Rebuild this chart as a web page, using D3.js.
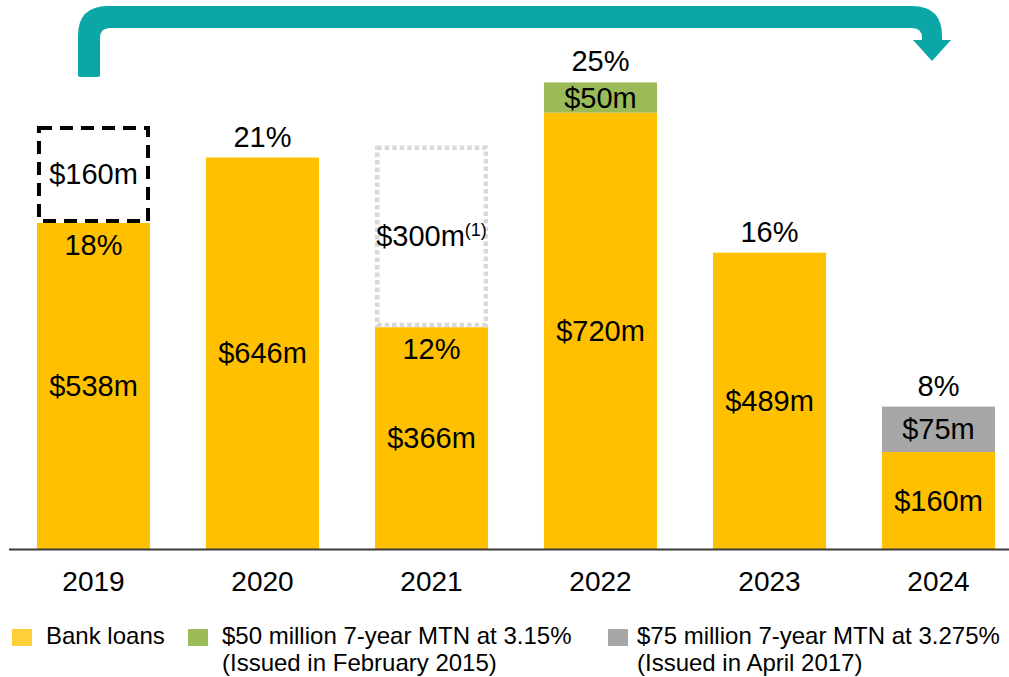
<!DOCTYPE html>
<html>
<head>
<meta charset="utf-8">
<script src="https://cdn.jsdelivr.net/npm/d3@7"></script>
<style>
  html, body { margin: 0; padding: 0; background: #ffffff; }
  svg text { font-family: "Liberation Sans", Arial, Helvetica, sans-serif; fill: #000; }
</style>
</head>
<body>
<svg id="chart" width="1009" height="677"></svg>
<script>
// ---- Data ----
const years = ["2019", "2020", "2021", "2022", "2023", "2024"];
const bankLoans = [538, 646, 366, 720, 489, 160];
const mtn2015 = [0, 0, 0, 50, 0, 0];
const mtn2017 = [0, 0, 0, 0, 0, 75];
const refinancing = [160, 0, 300, 0, 0, 0];
const refinancingKind = ["committed", "", "proposed", "", "", ""];
const refinancingNote = ["", "", "(1)", "", "", ""];
const percentLabels = ["18%", "21%", "12%", "25%", "16%", "8%"];
const legendLines = [
  ["Bank loans"],
  ["$50 million 7-year MTN at 3.15%", "(Issued in February 2015)"],
  ["$75 million 7-year MTN at 3.275%", "(Issued in April 2017)"]
];

// ---- Styles ----
const colors = { bank: "#FFC000", mtn2015: "#9BBB59", mtn2017: "#A6A6A6" };
const legendColors = ["#FFCF3A", "#9BBB59", "#A6A6A6"];
const boxStyles = {
  committed: { stroke: "#000000", width: 4, dash: "13,8" },
  proposed: { stroke: "#D9D9D9", width: 4.5, dash: "4.5,3" }
};

const svg = d3.select("#chart");

const x = d3.scaleBand().domain(years).range([9, 1023]).paddingInner(0.331).paddingOuter(0.1655);
const y = d3.scaleLinear().domain([0, 900]).range([549, 3.6]);
const bw = x.bandwidth();
const FS = 29;

// ---- Arrow ----
svg.append("path")
  .attr("d", "M78,75 Q78,77 80,77 L98,77 Q100,77 100,75 L100,38 Q100,28 110,28 L912,28 Q922,28 922,38 L922,40 L913,40 L932,61 L951,40 L942,40 L942,36 Q942,6 912,6 L108,6 Q78,6 78,36 Z")
  .attr("fill", "#0BA6A6");

const fmt = v => "$" + v + "m";

// ---- Stacked series ----
const rows = years.map((yr, i) => ({
  year: yr, bank: bankLoans[i], m15: mtn2015[i], m17: mtn2017[i],
  ref: refinancing[i], kind: refinancingKind[i], note: refinancingNote[i], pct: percentLabels[i]
}));

svg.selectAll("rect.bank").data(rows).enter().append("rect")
  .attr("class", "bank")
  .attr("x", d => x(d.year)).attr("width", bw)
  .attr("y", d => y(d.bank)).attr("height", d => y(0) - y(d.bank))
  .attr("fill", colors.bank);

svg.selectAll("rect.m15").data(rows.filter(d => d.m15 > 0)).enter().append("rect")
  .attr("x", d => x(d.year)).attr("width", bw)
  .attr("y", d => y(d.bank + d.m15)).attr("height", d => y(d.bank) - y(d.bank + d.m15))
  .attr("fill", colors.mtn2015);

svg.selectAll("rect.m17").data(rows.filter(d => d.m17 > 0)).enter().append("rect")
  .attr("x", d => x(d.year)).attr("width", bw)
  .attr("y", d => y(d.bank + d.m17)).attr("height", d => y(d.bank) - y(d.bank + d.m17))
  .attr("fill", colors.mtn2017);

rows.filter(d => d.ref > 0).forEach(d => {
  const st = boxStyles[d.kind];
  const top = y(d.bank + d.ref), bot = y(d.bank);
  const h = st.width / 2;
  svg.append("rect")
    .attr("x", x(d.year) + h).attr("width", bw - 2 * h)
    .attr("y", top + h).attr("height", bot - top - 2 * h)
    .attr("fill", "none")
    .attr("stroke", st.stroke).attr("stroke-width", st.width)
    .attr("stroke-dasharray", st.dash);
  const t = svg.append("text")
    .attr("x", x(d.year) + bw / 2)
    .attr("y", (top + bot) / 2 + 10)
    .attr("text-anchor", "middle")
    .attr("font-size", FS);
  t.append("tspan").text(fmt(d.ref));
  if (d.note) {
    t.append("tspan").attr("font-size", 18).attr("dy", -10).text(d.note);
  }
});

const segLabels = [];
rows.forEach(d => {
  segLabels.push({ year: d.year, lo: 0, hi: d.bank, v: d.bank });
  if (d.m15 > 0) segLabels.push({ year: d.year, lo: d.bank, hi: d.bank + d.m15, v: d.m15 });
  if (d.m17 > 0) segLabels.push({ year: d.year, lo: d.bank, hi: d.bank + d.m17, v: d.m17 });
});
svg.selectAll("text.val").data(segLabels).enter().append("text")
  .attr("x", d => x(d.year) + bw / 2)
  .attr("y", d => (y(d.lo) + y(d.hi)) / 2 + 10)
  .attr("text-anchor", "middle")
  .attr("font-size", FS)
  .text(d => fmt(d.v));

svg.selectAll("text.pct").data(rows).enter().append("text")
  .attr("x", d => x(d.year) + bw / 2)
  .attr("y", d => d.ref > 0 ? y(d.bank) + 32 : y(d.bank + d.m15 + d.m17) - 11)
  .attr("text-anchor", "middle")
  .attr("font-size", FS)
  .text(d => d.pct);

// ---- Axis ----
const xAxis = d3.axisBottom(x).tickSize(0).tickPadding(22);
const ax = svg.append("g").attr("transform", `translate(0,${y(0)})`).call(xAxis);
ax.select(".domain").attr("d", "M9,0.5H1009").attr("stroke", "#3a3a3a").attr("stroke-width", 2);
ax.selectAll(".tick text")
  .attr("font-size", 28)
  .attr("font-family", "'Liberation Sans', Arial, sans-serif")
  .attr("fill", "#000");

// ---- Legend ----
const legendX = [12, 188, 608];
const legendTextX = [46, 222, 637];
legendLines.forEach((lines, i) => {
  svg.append("rect").attr("x", legendX[i]).attr("y", 629).attr("width", 20).attr("height", 17)
    .attr("fill", legendColors[i]);
  lines.forEach((ln, j) => {
    svg.append("text").attr("x", legendTextX[i]).attr("y", 644 + j * 27)
      .attr("font-size", 24).text(ln);
  });
});
</script>
</body>
</html>
